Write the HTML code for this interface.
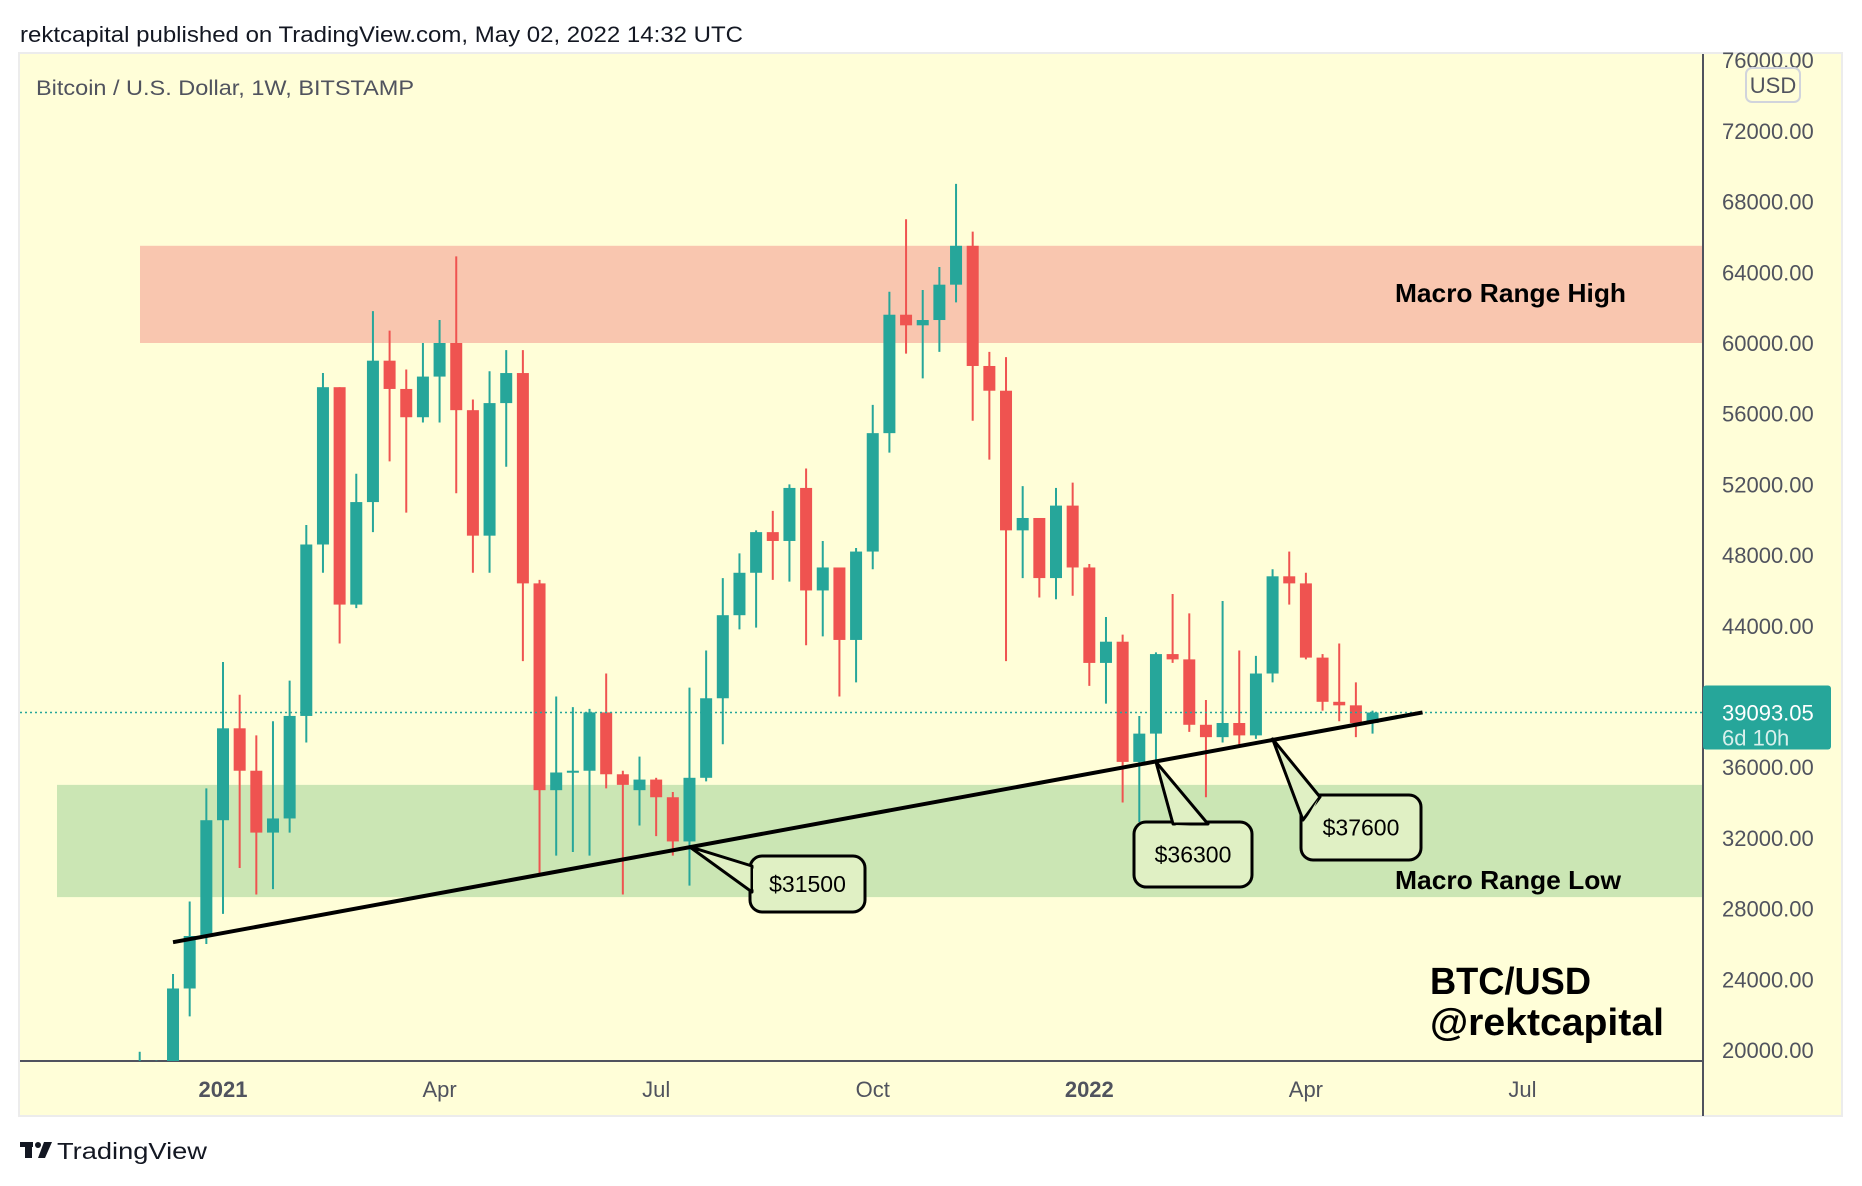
<!DOCTYPE html>
<html><head><meta charset="utf-8">
<style>
html,body{margin:0;padding:0;background:#fff;}
svg{display:block;font-family:"Liberation Sans",sans-serif;}
</style></head>
<body>
<svg id="chart" width="1862" height="1186" viewBox="0 0 1862 1186" xmlns="http://www.w3.org/2000/svg">
  <rect x="0" y="0" width="1862" height="1186" fill="#ffffff"/>
  <text x="20" y="42" font-size="22" fill="#131722" textLength="723" lengthAdjust="spacingAndGlyphs">rektcapital published on TradingView.com, May 02, 2022 14:32 UTC</text>
  <rect x="19" y="53" width="1823" height="1063" fill="#fffed8" stroke="#ececec" stroke-width="2"/>
  <g id="zones"></g>
  <g id="grid"></g>
  <g id="candles"></g>
  <g id="overlay"></g>
  <text x="36" y="95" font-size="21" fill="#50535e" textLength="378" lengthAdjust="spacingAndGlyphs">Bitcoin / U.S. Dollar, 1W, BITSTAMP</text>
  <text x="1395" y="302" font-size="26" font-weight="bold" fill="#000" textLength="231" lengthAdjust="spacingAndGlyphs">Macro Range High</text>
  <text x="1395" y="889" font-size="26" font-weight="bold" fill="#000" textLength="226" lengthAdjust="spacingAndGlyphs">Macro Range Low</text>
  <text x="1430" y="994" font-size="38" font-weight="bold" fill="#000" textLength="161" lengthAdjust="spacingAndGlyphs">BTC/USD</text>
  <text x="1430" y="1035" font-size="38" font-weight="bold" fill="#000" textLength="234" lengthAdjust="spacingAndGlyphs">@rektcapital</text>
  <g>
    <rect x="20" y="1142" width="13" height="5" fill="#131722"/>
    <rect x="25" y="1142" width="7" height="16" fill="#131722"/>
    <circle cx="38" cy="1145" r="3" fill="#131722"/>
    <polygon points="44,1142 52,1142 45,1158 38,1158" fill="#131722"/>
    <text x="57" y="1159" font-size="23" fill="#131722" textLength="150" lengthAdjust="spacingAndGlyphs">TradingView</text>
  </g>
</svg>
<script>
// ----- data -----
const weekLabels = ["2020-11-30","2020-12-07","2020-12-14","2020-12-21","2020-12-28","2021-01-04","2021-01-11","2021-01-18","2021-01-25","2021-02-01","2021-02-08","2021-02-15","2021-02-22","2021-03-01","2021-03-08","2021-03-15","2021-03-22","2021-03-29","2021-04-05","2021-04-12","2021-04-19","2021-04-26","2021-05-03","2021-05-10","2021-05-17","2021-05-24","2021-05-31","2021-06-07","2021-06-14","2021-06-21","2021-06-28","2021-07-05","2021-07-12","2021-07-19","2021-07-26","2021-08-02","2021-08-09","2021-08-16","2021-08-23","2021-08-30","2021-09-06","2021-09-13","2021-09-20","2021-09-27","2021-10-04","2021-10-11","2021-10-18","2021-10-25","2021-11-01","2021-11-08","2021-11-15","2021-11-22","2021-11-29","2021-12-06","2021-12-13","2021-12-20","2021-12-27","2022-01-03","2022-01-10","2022-01-17","2022-01-24","2022-01-31","2022-02-07","2022-02-14","2022-02-21","2022-02-28","2022-03-07","2022-03-14","2022-03-21","2022-03-28","2022-04-04","2022-04-11","2022-04-18","2022-04-25","2022-05-02"];
const opens  = [18200,19150,19270,23480,26450,33000,38200,35800,32300,33100,38900,48600,57500,45200,51000,59000,57400,55800,58100,60000,56200,49100,56600,58300,46400,34700,35700,35800,39100,35600,34700,35300,34300,31800,35400,39900,44600,47000,49300,48800,51800,46000,47300,43200,48200,54900,61600,61000,61300,63300,65500,58700,57300,49400,50100,46700,50800,47300,41900,43100,36300,37900,42400,42100,38400,37700,38500,37800,41300,46800,46400,42200,39700,39500,38500];
const highs  = [19900,19400,24300,28400,34800,41950,40100,37800,38600,40900,49700,58300,57500,52600,61800,60700,58500,60000,61300,64900,56800,58400,59600,59600,46600,40000,39400,39300,41300,35800,36600,35400,34600,40500,42600,46700,48100,49400,50500,52000,52900,48800,47300,48400,56500,62900,67000,63000,64300,69000,66300,59500,59200,51900,50100,51800,52100,47500,44500,43500,38900,42500,45800,44700,39800,45400,42600,42300,47200,48200,47000,42400,43000,40800,39200];
const lows   = [18100,17600,19000,21900,26000,27700,30300,28800,29100,32300,37400,47000,43000,45000,49300,53300,50400,55500,55500,51500,47000,47000,53000,42000,30000,31000,31200,31000,34800,28800,32700,32100,31000,29300,35200,37300,43800,43900,46600,46500,42900,43400,40000,40800,47200,53800,59400,58000,59500,62300,55600,53400,42000,46700,45600,45500,45700,40600,39600,34000,32900,36200,41900,38000,34300,37400,37200,37600,40800,45200,42100,39200,38600,37700,37900];
const closes = [19150,19270,23480,26450,33000,38200,35800,32300,33100,38900,48600,57500,45200,51000,59000,57400,55800,58100,60000,56200,49100,56600,58300,46400,34700,35700,35800,39100,35600,35000,35300,34300,31800,35400,39900,44600,47000,49300,48800,51800,46000,47300,43200,48200,54900,61600,61000,61300,63300,65500,58700,57300,49400,50100,46700,50800,47300,41900,43100,36300,37900,42400,42100,38400,37700,38500,37800,41300,46800,46400,42200,39700,39500,38500,39093.05];
const priceTicks = [20000,24000,28000,32000,36000,40000,44000,48000,52000,56000,60000,64000,68000,72000,76000];
const timeLabels = ["2021","Apr","Jul","Oct","2022","Apr","Jul"];
const timeLabelIdx = [5,18,31,44,57,70,83];
const timeLabelBold = [true,false,false,false,true,false,false];
const zoneHigh = [60000,65500];
const zoneLow = [28650,35000];
const trendStartIdx = 2, trendStartPrice = 26100;
const trendEndIdx = 77, trendEndPrice = 39100;
const calloutLabels = ["$31500","$36300","$37600"];
const calloutIdx = [33,61,68];
const calloutPrice = [31500,36300,37600];
const lastPrice = 39093.05;

// ----- axes -----
const PLOT_L=20, PLOT_R=1703, PLOT_T=54, PLOT_B=1061;
function yOf(p){ return 343 - (p-60000)*70.7/4000; }
function xOf(i){ return 139.7 + i*16.66; }

const NS="http://www.w3.org/2000/svg";
function mk(tag, attrs, parent){
  const e=document.createElementNS(NS,tag);
  for(const k in attrs) e.setAttribute(k, attrs[k]);
  parent.appendChild(e); return e;
}
const svg=document.getElementById('chart');
const gZ=document.getElementById('zones');
const gG=document.getElementById('grid');
const gC=document.getElementById('candles');
const gO=document.getElementById('overlay');

const defs=mk('defs',{},svg);
const cp=mk('clipPath',{id:'plotclip'},defs);
mk('rect',{x:PLOT_L,y:PLOT_T,width:PLOT_R-PLOT_L,height:PLOT_B-PLOT_T},cp);
gC.setAttribute('clip-path','url(#plotclip)');

const zh=mk('rect',{x:140,y:yOf(zoneHigh[1]),width:PLOT_R-140,height:yOf(zoneHigh[0])-yOf(zoneHigh[1]),fill:'#f9c6af'},gZ);


const zl=mk('rect',{x:57,y:yOf(zoneLow[1]),width:PLOT_R-57,height:yOf(zoneLow[0])-yOf(zoneLow[1]),fill:'#cbe6b4'},gZ);



const xa=mk('line',{x1:PLOT_L,y1:PLOT_B,x2:PLOT_R,y2:PLOT_B,stroke:'#50535e','stroke-width':2},gG);


const ya=mk('line',{x1:PLOT_R,y1:PLOT_T,x2:PLOT_R,y2:1116,stroke:'#50535e','stroke-width':2},gG);



priceTicks.forEach(p=>{
  const y=yOf(p);
  if(y<PLOT_T-10) return;
  const t=mk('text',{x:1722,y:y+8,'font-size':22,fill:'#50535e'},svg);
  t.textContent=p.toFixed(2);
  
  
});
const ub=mk('rect',{x:1746,y:68,width:54,height:34,rx:6,fill:'#fffed8',stroke:'#d1d4dc','stroke-width':2},svg);


const ut=mk('text',{x:1773,y:93,'font-size':22,fill:'#50535e','text-anchor':'middle'},svg);
ut.textContent='USD';



timeLabels.forEach((s,k)=>{
  const t=mk('text',{x:xOf(timeLabelIdx[k]),y:1097,'font-size':22,fill:'#50535e','text-anchor':'middle','font-weight':timeLabelBold[k]?'bold':'normal'},svg);
  t.textContent=s;
  
  
});

for(let i=0;i<opens.length;i++){
  const up=closes[i]>=opens[i];
  const col=up?'#26a69a':'#ef5350';
  const x=xOf(i);
  const g=mk('g',{},gC);
  
  
  mk('line',{x1:x,y1:yOf(highs[i]),x2:x,y2:yOf(lows[i]),stroke:col,'stroke-width':2},g);
  const top=yOf(Math.max(opens[i],closes[i])), bot=yOf(Math.min(opens[i],closes[i]));
  mk('rect',{x:x-6,y:top,width:12,height:Math.max(2,bot-top),fill:col},g);
}

const ly=yOf(lastPrice);
const lp=mk('line',{x1:PLOT_L,y1:ly,x2:PLOT_R,y2:ly,stroke:'#26a69a','stroke-width':1.5,'stroke-dasharray':'2,3'},gO);



const tl=mk('line',{x1:xOf(trendStartIdx),y1:yOf(trendStartPrice),x2:xOf(trendEndIdx),y2:yOf(trendEndPrice),stroke:'#000','stroke-width':4},gO);



// callout boxes: [x,y,w,h] and tail base (two points on box edge)
const boxes=[[750,856,115,56],[1134,822,118,65],[1301,795,120,65]];
const tailBase=[[[752,866],[752,892]],[[1173,824],[1208,824]],[[1303,820],[1320,797]]];
calloutLabels.forEach((s,k)=>{
  const [bx,by,bw,bh]=boxes[k];
  const px=xOf(calloutIdx[k]), py=yOf(calloutPrice[k]);
  const g=mk('g',{},gO);
  
  
  const [a,b]=tailBase[k];
  mk('rect',{x:bx,y:by,width:bw,height:bh,rx:12,fill:'#e0f0c4',stroke:'#000','stroke-width':3},g);
  mk('polygon',{points:`${a[0]},${a[1]} ${px},${py} ${b[0]},${b[1]}`,fill:'#e0f0c4',stroke:'#000','stroke-width':3,'stroke-linejoin':'round'},g);
  // hide box border under tail base
  mk('polygon',{points:`${a[0]+(k===0?1:2)},${a[1]+(k===0?2:1)} ${b[0]+(k===0?1:-2)},${b[1]+(k===0?-2:2)} ${(a[0]+b[0])/2+(k===0?6:0)},${(a[1]+b[1])/2+(k===0?0:6)}`,fill:'#e0f0c4'},g);
  const t=mk('text',{x:bx+bw/2,y:by+bh/2+8,'font-size':23,fill:'#000','text-anchor':'middle'},g);
  t.textContent=s;
});

const pg=mk('g',{},svg);


mk('rect',{x:1703,y:ly-27,width:128,height:64,rx:3,fill:'#26a69a'},pg);
const t1=mk('text',{x:1722,y:ly+8,'font-size':22,fill:'#fff'},pg);
t1.textContent=lastPrice.toFixed(2);
const t2=mk('text',{x:1722,y:ly+33,'font-size':22,fill:'#d8f0ec'},pg);
t2.textContent='6d 10h';
</script>
</body></html>
